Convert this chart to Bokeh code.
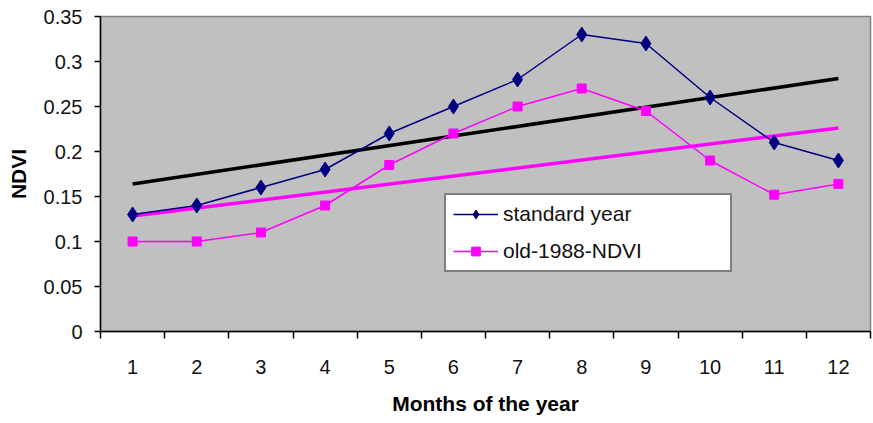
import numpy as np
from bokeh.plotting import figure
from bokeh.models import FixedTicker, Range1d, Legend, LegendItem
from bokeh.embed import file_html
from bokeh.resources import INLINE

months = [1, 2, 3, 4, 5, 6, 7, 8, 9, 10, 11, 12]
standard_year = [0.13, 0.14, 0.16, 0.18, 0.22, 0.25, 0.28, 0.33, 0.32, 0.26, 0.21, 0.19]
old_1988_ndvi = [0.10, 0.10, 0.11, 0.14, 0.185, 0.22, 0.25, 0.27, 0.245, 0.19, 0.152, 0.164]
y_ticks = [0, 0.05, 0.1, 0.15, 0.2, 0.25, 0.3, 0.35]
y_tick_labels = ["0", "0.05", "0.1", "0.15", "0.2", "0.25", "0.3", "0.35"]
x_bounds = [m - 0.5 for m in months] + [12.5]

FONT = "Liberation Sans"
NAVY = "#000080"
MAG = "#FF00FF"

p = figure(width=873, height=423, output_backend="svg", toolbar_location=None,
           x_range=Range1d(0.5, 12.5), y_range=Range1d(0, 0.35),
           min_border_left=100, min_border_right=3, min_border_top=16, min_border_bottom=92)

p.background_fill_color = "#C0C0C0"
p.border_fill_color = "white"
p.outline_line_color = "#808080"
p.outline_line_width = 1.5
p.grid.visible = False

# trend lines (linear fit of each series)
xm = np.array(months, dtype=float)
for series, col in [(standard_year, "black"), (old_1988_ndvi, MAG)]:
    k, b = np.polyfit(xm, np.array(series), 1)
    p.line([months[0], months[-1]], [k * months[0] + b, k * months[-1] + b],
           line_color=col, line_width=3.5)

l1 = p.line(months, standard_year, line_color=NAVY, line_width=1.5)
s1 = p.scatter(months, standard_year, marker="diamond", size=15, fill_color=NAVY, line_color=NAVY)
l2 = p.line(months, old_1988_ndvi, line_color=MAG, line_width=1.5)
s2 = p.scatter(months, old_1988_ndvi, marker="square", size=9, fill_color=MAG, line_color=MAG)

legend = Legend(items=[LegendItem(label="standard year", renderers=[l1, s1]),
                       LegendItem(label="old-1988-NDVI", renderers=[l2, s2])],
                location=(344, 59), orientation="vertical")
legend.padding = 7
legend.glyph_width = 45
legend.glyph_height = 22
legend.label_height = 22
legend.label_width = 220
legend.label_standoff = 5
legend.spacing = 13
legend.margin = 0
legend.border_line_color = "black"
legend.border_line_width = 2
legend.background_fill_color = "white"
legend.background_fill_alpha = 1
legend.label_text_font = FONT
legend.label_text_font_size = "21px"
legend.label_text_color = "#111111"
p.add_layout(legend, "center")

# x axis
xa = p.xaxis[0]
xa.ticker = FixedTicker(ticks=months, minor_ticks=x_bounds)
xa.major_tick_line_color = None
xa.major_tick_out = 0
xa.major_tick_in = 0
xa.minor_tick_out = 7
xa.minor_tick_in = 0
xa.minor_tick_line_color = "black"
xa.minor_tick_line_width = 1.5
xa.axis_line_color = "black"
xa.axis_line_width = 1.5
xa.major_label_standoff = 21
xa.major_label_text_font = FONT
xa.major_label_text_font_size = "20px"
xa.major_label_text_color = "#111111"
xa.axis_label = "Months of the year"
xa.axis_label_text_font = FONT
xa.axis_label_text_font_size = "21px"
xa.axis_label_text_font_style = "bold"
xa.axis_label_text_color = "black"
xa.axis_label_standoff = 15

# y axis
ya = p.yaxis[0]
ya.ticker = FixedTicker(ticks=y_ticks, minor_ticks=[])
ya.major_label_overrides = {t: s for t, s in zip(y_ticks, y_tick_labels)}
ya.major_tick_out = 6
ya.major_tick_in = 0
ya.major_tick_line_color = "black"
ya.major_tick_line_width = 1.5
ya.minor_tick_line_color = None
ya.axis_line_color = "black"
ya.axis_line_width = 1.5
ya.major_label_standoff = 12
ya.major_label_text_font = FONT
ya.major_label_text_font_size = "20px"
ya.major_label_text_color = "#111111"
ya.axis_label = "NDVI"
ya.axis_label_text_font = FONT
ya.axis_label_text_font_size = "21px"
ya.axis_label_text_font_style = "bold"
ya.axis_label_text_color = "black"
ya.axis_label_standoff = 11

open("out.html", "w").write(file_html(p, INLINE))
